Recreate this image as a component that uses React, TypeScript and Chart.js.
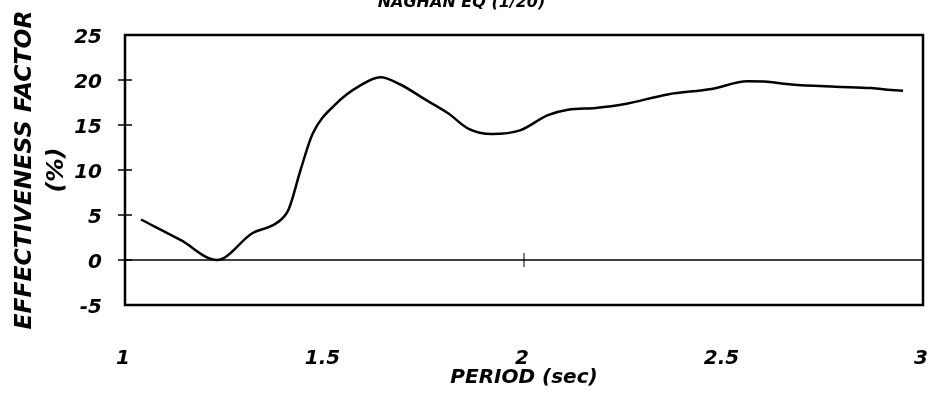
import React, { useEffect, useRef } from "react";
import { Chart, registerables } from "chart.js";

Chart.register(...registerables);

const chartTitle = "NAGHAN EQ (1/20)";
const xAxisTitle = "PERIOD (sec)";
const yAxisTitle = ["EFFECTIVENESS FACTOR", "(%)"];

const periods = [1.04, 1.14, 1.23, 1.32, 1.38, 1.41, 1.44, 1.47, 1.53, 1.59, 1.64, 1.69, 1.75, 1.81, 1.86, 1.92, 1.99, 2.06, 2.11, 2.18, 2.25, 2.36, 2.47, 2.56, 2.61, 2.67, 2.78, 2.87, 2.92, 2.95];
const effectiveness = [4.5, 2.2, 0.0, 3.0, 4.1, 5.6, 10.0, 14.0, 17.4, 19.4, 20.3, 19.5, 17.9, 16.3, 14.6, 14.0, 14.4, 16.1, 16.7, 16.9, 17.3, 18.4, 19.0, 19.85, 19.8, 19.5, 19.25, 19.1, 18.9, 18.8];

const xMin = 1;
const xMax = 3;
const xStep = 0.5;
const yMin = -5;
const yMax = 25;
const yStep = 5;
const zeroLineTickPeriods = [2];

const FONT = "'DejaVu Sans', 'Liberation Sans', Arial, sans-serif";

const framePlugin = {
  id: "frame",
  afterDatasetsDraw(chart: any) {
    const { ctx, chartArea, scales } = chart;
    const { left, right, top, bottom } = chartArea;
    const xs = scales.x;
    const ys = scales.y;
    ctx.save();
    ctx.strokeStyle = "#000";
    const y0 = ys.getPixelForValue(0);
    ctx.lineWidth = 1.5;
    ctx.beginPath();
    ctx.moveTo(left, y0);
    ctx.lineTo(right, y0);
    ctx.stroke();
    ctx.lineWidth = 1;
    zeroLineTickPeriods.forEach((p) => {
      const px = xs.getPixelForValue(p);
      ctx.beginPath();
      ctx.moveTo(px, y0 - 7);
      ctx.lineTo(px, y0 + 7);
      ctx.stroke();
    });
    ctx.lineWidth = 1.5;
    ys.ticks.forEach((t: any) => {
      if (t.value === yMin || t.value === yMax) return;
      const py = ys.getPixelForValue(t.value);
      ctx.beginPath();
      ctx.moveTo(left - 7, py);
      ctx.lineTo(left + 7, py);
      ctx.stroke();
    });
    ctx.lineWidth = 2.5;
    ctx.strokeRect(left, top, right - left, bottom - top);
    ctx.restore();
  },
};

export default function App() {
  const canvasRef = useRef<HTMLCanvasElement | null>(null);

  useEffect(() => {
    if (!canvasRef.current) return;
    const chart = new Chart(canvasRef.current, {
      type: "line",
      data: {
        datasets: [
          {
            data: periods.map((p, i) => ({ x: p, y: effectiveness[i] })),
            borderColor: "#000",
            borderWidth: 2.5,
            pointRadius: 0,
            cubicInterpolationMode: "monotone",
            fill: false,
          },
        ],
      },
      options: {
        animation: false,
        responsive: true,
        maintainAspectRatio: false,
        layout: { padding: { left: 0, right: 7, top: 0, bottom: 0 } },
        plugins: {
          legend: { display: false },
          tooltip: { enabled: false },
          title: {
            display: true,
            text: chartTitle,
            color: "#000",
            font: { family: FONT, size: 16, weight: "bold", style: "italic", lineHeight: 1.2 },
            padding: { top: -6.6, bottom: 22.4 },
          },
        },
        scales: {
          x: {
            type: "linear",
            min: xMin,
            max: xMax,
            grid: { display: false, drawTicks: false },
            border: { display: false },
            ticks: {
              stepSize: xStep,
              color: "#000",
              padding: 42,
              maxRotation: 0,
              autoSkip: false,
              labelOffset: -2,
              callback: (v: any) => String(Number(v)),
              font: { family: FONT, size: 20, weight: "bold", style: "italic" },
            },
            title: {
              display: true,
              text: xAxisTitle,
              color: "#000",
              font: { family: FONT, size: 20, weight: "bold", style: "italic", lineHeight: 1.2 },
              padding: { top: 0, bottom: 11 },
            },
            afterFit(scale: any) {
              scale.height = 96;
              scale.paddingLeft = 0;
              scale.paddingRight = 0;
            },
          },
          y: {
            min: yMin,
            max: yMax,
            grid: { display: false, drawTicks: false },
            border: { display: false },
            ticks: {
              stepSize: yStep,
              color: "#000",
              padding: 23,
              labelOffset: 3,
              font: { family: FONT, size: 20, weight: "bold", style: "italic" },
            },
            title: {
              display: true,
              text: yAxisTitle,
              color: "#000",
              font: { family: FONT, size: 23.5, weight: "bold", style: "italic", lineHeight: 32 / 23.5 },
              padding: { top: 9, bottom: 0 },
            },
            afterFit(scale: any) {
              scale.width = 125;
              scale.paddingTop = 0;
              scale.paddingBottom = 0;
            },
          },
        },
      },
      plugins: [framePlugin],
    } as any);
    return () => chart.destroy();
  }, []);

  return (
    <div style={{ position: "fixed", left: 0, top: 0, width: 930, height: 401, background: "#fff" }}>
      <canvas ref={canvasRef} />
    </div>
  );
}
